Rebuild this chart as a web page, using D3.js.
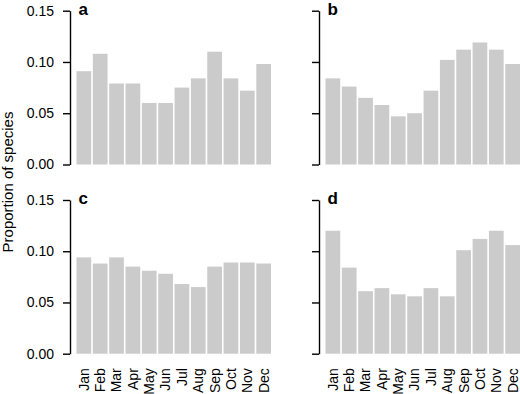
<!DOCTYPE html>
<html>
<head>
<meta charset="utf-8">
<script src="https://cdn.jsdelivr.net/npm/d3@7"></script>
<style>
  body { margin: 0; background: #fff; }
  svg { display: block; font-family: "Liberation Sans", Arial, sans-serif; }
</style>
</head>
<body>
<svg width="520" height="394"></svg>
<script>
const months = ["Jan", "Feb", "Mar", "Apr", "May", "Jun", "Jul", "Aug", "Sep", "Oct", "Nov", "Dec"];
const yTicks = [0, 0.05, 0.10, 0.15];
const panelNames = ["a", "b", "c", "d"];

const valuesA = [0.091, 0.108, 0.079, 0.079, 0.060, 0.060, 0.075, 0.084, 0.110, 0.084, 0.072, 0.098];
const valuesB = [0.084, 0.076, 0.065, 0.058, 0.047, 0.050, 0.072, 0.102, 0.112, 0.119, 0.112, 0.098];
const valuesC = [0.094, 0.088, 0.094, 0.085, 0.081, 0.078, 0.068, 0.065, 0.085, 0.089, 0.089, 0.088];
const valuesD = [0.120, 0.084, 0.061, 0.064, 0.058, 0.056, 0.064, 0.056, 0.101, 0.112, 0.120, 0.106];

const svg = d3.select("svg");

// panel layout: axis x and top/bottom of the y scale
const panels = [
    {name: panelNames[0], values: valuesA, axisX: 70,  top: 10.7, bottom: 164.5, labels: true,  months: false},
    {name: panelNames[1], values: valuesB, axisX: 319, top: 10.7, bottom: 164.5, labels: false, months: false},
    {name: panelNames[2], values: valuesC, axisX: 70,  top: 200,  bottom: 353.7, labels: true,  months: true},
    {name: panelNames[3], values: valuesD, axisX: 319, top: 200,  bottom: 353.7, labels: false, months: true}
];

panels.forEach(function(p) {
    const g = svg.append("g");

    const x = d3.scaleBand()
        .domain(months)
        .range([p.axisX + 6.5, p.axisX + 201])
        .paddingInner(0.1)
        .paddingOuter(0);

    const y = d3.scaleLinear()
        .domain([0, 0.15])
        .range([p.bottom, p.top]);

    g.selectAll(".bar")
        .data(p.values)
        .enter().append("rect")
        .attr("class", "bar")
        .attr("x", (d, i) => x(months[i]))
        .attr("width", x.bandwidth())
        .attr("y", d => y(d))
        .attr("height", d => y(0) - y(d))
        .attr("fill", "#cbcbcb");

    const axis = d3.axisLeft(y)
        .tickValues(yTicks)
        .tickSize(7)
        .tickSizeOuter(0)
        .tickPadding(9)
        .tickFormat(p.labels ? d3.format(".2f") : "");

    const ag = g.append("g")
        .attr("transform", "translate(" + p.axisX + ",0)")
        .call(axis);
    ag.select(".domain").attr("stroke", "#000").attr("stroke-width", 1.4);
    ag.selectAll(".tick line").attr("stroke", "#000").attr("stroke-width", 1.4);
    ag.selectAll(".tick text")
        .attr("fill", "#000")
        .style("font-size", "14px")
        .style("font-family", "'Liberation Sans', Arial, sans-serif");

    // panel letter
    g.append("text")
        .attr("x", x(months[0]) + 2)
        .attr("y", p.top + 4)
        .attr("font-size", "17px")
        .attr("font-weight", "bold")
        .text(p.name);

    if (p.months) {
        g.selectAll(".month")
            .data(months)
            .enter().append("text")
            .attr("class", "month")
            .attr("transform", d => "translate(" + (x(d) + x.bandwidth() / 2) + "," + (p.bottom + 14.5) + ") rotate(-90)")
            .attr("dy", "0.35em")
            .attr("text-anchor", "end")
            .attr("font-size", "14px")
            .text(d => d);
    }
});

svg.append("text")
    .attr("transform", "translate(13,182) rotate(-90)")
    .attr("text-anchor", "middle")
    .attr("font-size", "15px")
    .text("Proportion of species");
</script>
</body>
</html>
